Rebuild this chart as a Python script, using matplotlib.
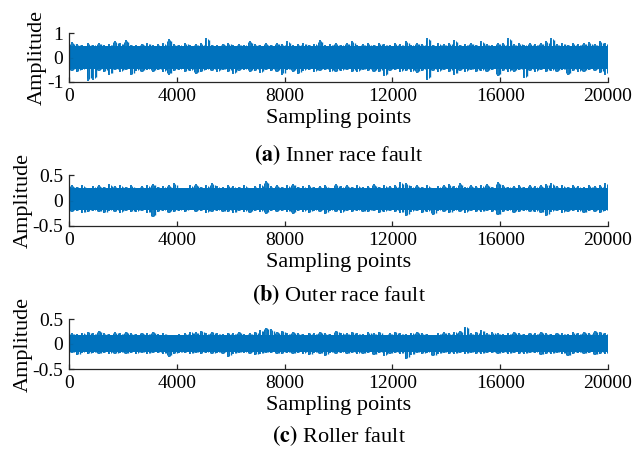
import numpy as np
import matplotlib
matplotlib.use("Agg")
import matplotlib.pyplot as plt

plt.rcParams['font.family'] = ['Liberation Serif', 'DejaVu Serif']
plt.rcParams['axes.unicode_minus'] = False
plt.rcParams['mathtext.fontset'] = 'stix'

N_POINTS = 20000
BIN = 200  # samples per envelope bin

# upper / lower envelope of each signal, one value per 200 samples
inner_hi = [0.62, 0.55, 0.5, 0.58, 0.52, 0.6, 0.5, 0.55, 0.68, 0.6,
            0.7, 0.52, 0.5, 0.56, 0.6, 0.5, 0.54, 0.58, 0.75, 0.55,
            0.52, 0.6, 0.5, 0.55, 0.58, 0.78, 0.52, 0.5, 0.56, 0.6,
            0.5, 0.55, 0.52, 0.68, 0.55, 0.5, 0.58, 0.52, 0.6, 0.55,
            0.66, 0.5, 0.55, 0.6, 0.52, 0.56, 0.7, 0.5, 0.55, 0.58,
            0.52, 0.6, 0.68, 0.5, 0.55, 0.58, 0.52, 0.6, 0.55, 0.5,
            0.58, 0.55, 0.66, 0.52, 0.6, 0.55, 0.78, 0.52, 0.58, 0.55,
            0.6, 0.7, 0.52, 0.55, 0.6, 0.52, 0.66, 0.55, 0.5, 0.6,
            0.58, 0.78, 0.55, 0.6, 0.52, 0.58, 0.55, 0.6, 0.66, 0.78,
            0.55, 0.6, 0.52, 0.58, 0.55, 0.6, 0.62, 0.55, 0.68, 0.6]
inner_lo = [-0.55, -0.6, -0.5, -0.95, -0.9, -0.55, -0.6, -0.7, -0.52, -0.58,
            -0.5, -0.72, -0.55, -0.6, -0.5, -0.58, -0.52, -0.6, -0.7, -0.55,
            -0.5, -0.58, -0.55, -0.66, -0.6, -0.5, -0.55, -0.58, -0.52, -0.6,
            -0.68, -0.55, -0.5, -0.58, -0.55, -0.62, -0.5, -0.55, -0.6, -0.7,
            -0.52, -0.58, -0.66, -0.55, -0.5, -0.6, -0.55, -0.52, -0.58, -0.6,
            -0.55, -0.5, -0.58, -0.6, -0.52, -0.55, -0.6, -0.58, -0.75, -0.55,
            -0.5, -0.6, -0.55, -0.58, -0.62, -0.55, -0.92, -0.55, -0.6, -0.5,
            -0.58, -0.7, -0.55, -0.6, -0.52, -0.58, -0.55, -0.6, -0.5, -0.75,
            -0.55, -0.6, -0.58, -0.52, -0.85, -0.55, -0.6, -0.5, -0.58, -0.55,
            -0.6, -0.52, -0.72, -0.55, -0.58, -0.6, -0.5, -0.55, -0.62, -0.7]

outer_hi = [0.3, 0.27, 0.3, 0.25, 0.28, 0.3, 0.27, 0.32, 0.28, 0.3,
            0.27, 0.3, 0.25, 0.28, 0.3, 0.33, 0.27, 0.28, 0.3, 0.34,
            0.22, 0.25, 0.3, 0.32, 0.27, 0.3, 0.34, 0.28, 0.26, 0.3,
            0.28, 0.27, 0.3, 0.25, 0.28, 0.32, 0.38, 0.28, 0.3, 0.27,
            0.3, 0.33, 0.27, 0.28, 0.3, 0.26, 0.28, 0.3, 0.25, 0.32,
            0.28, 0.3, 0.27, 0.3, 0.26, 0.28, 0.32, 0.27, 0.3, 0.28,
            0.3, 0.36, 0.34, 0.28, 0.3, 0.27, 0.3, 0.25, 0.28, 0.3,
            0.32, 0.28, 0.34, 0.27, 0.3, 0.28, 0.3, 0.32, 0.27, 0.36,
            0.3, 0.27, 0.28, 0.3, 0.26, 0.3, 0.28, 0.3, 0.33, 0.34,
            0.28, 0.3, 0.27, 0.3, 0.28, 0.26, 0.3, 0.28, 0.3, 0.34]
outer_lo = [-0.22, -0.2, -0.25, -0.22, -0.2, -0.23, -0.25, -0.2, -0.22, -0.24,
            -0.2, -0.23, -0.22, -0.2, -0.25, -0.33, -0.22, -0.2, -0.24, -0.22,
            -0.2, -0.22, -0.18, -0.22, -0.2, -0.24, -0.22, -0.2, -0.23, -0.22,
            -0.25, -0.2, -0.22, -0.24, -0.2, -0.22, -0.26, -0.2, -0.22, -0.2,
            -0.23, -0.26, -0.2, -0.22, -0.24, -0.2, -0.22, -0.26, -0.2, -0.22,
            -0.24, -0.2, -0.22, -0.2, -0.23, -0.22, -0.2, -0.24, -0.22, -0.2,
            -0.22, -0.25, -0.3, -0.22, -0.2, -0.24, -0.22, -0.28, -0.2, -0.22,
            -0.25, -0.2, -0.22, -0.24, -0.2, -0.22, -0.23, -0.2, -0.22, -0.29,
            -0.22, -0.2, -0.24, -0.22, -0.2, -0.23, -0.22, -0.25, -0.3, -0.22,
            -0.2, -0.24, -0.22, -0.2, -0.22, -0.25, -0.2, -0.22, -0.24, -0.2]

roller_hi = [0.22, 0.2, 0.23, 0.25, 0.22, 0.27, 0.22, 0.2, 0.24, 0.22,
             0.25, 0.22, 0.2, 0.23, 0.22, 0.25, 0.2, 0.22, 0.18, 0.17,
             0.2, 0.22, 0.25, 0.24, 0.27, 0.22, 0.25, 0.22, 0.2, 0.23,
             0.22, 0.25, 0.2, 0.22, 0.25, 0.28, 0.33, 0.3, 0.25, 0.27,
             0.22, 0.25, 0.22, 0.2, 0.23, 0.22, 0.25, 0.22, 0.2, 0.27,
             0.23, 0.22, 0.25, 0.22, 0.2, 0.24, 0.22, 0.25, 0.18, 0.22,
             0.25, 0.22, 0.2, 0.23, 0.25, 0.22, 0.2, 0.18, 0.22, 0.24,
             0.22, 0.25, 0.27, 0.35, 0.22, 0.25, 0.28, 0.22, 0.24, 0.22,
             0.2, 0.22, 0.25, 0.22, 0.2, 0.23, 0.22, 0.25, 0.22, 0.2,
             0.23, 0.22, 0.2, 0.24, 0.22, 0.25, 0.22, 0.27, 0.25, 0.22]
roller_lo = [-0.18, -0.22, -0.17, -0.2, -0.18, -0.2, -0.17, -0.19, -0.2, -0.18,
             -0.2, -0.17, -0.19, -0.18, -0.2, -0.17, -0.18, -0.2, -0.25, -0.2,
             -0.18, -0.17, -0.2, -0.18, -0.19, -0.17, -0.2, -0.18, -0.19, -0.25,
             -0.2, -0.18, -0.17, -0.19, -0.22, -0.2, -0.18, -0.17, -0.2, -0.19,
             -0.18, -0.2, -0.17, -0.19, -0.22, -0.18, -0.2, -0.23, -0.18, -0.19,
             -0.17, -0.2, -0.18, -0.19, -0.2, -0.17, -0.22, -0.18, -0.23, -0.2,
             -0.18, -0.2, -0.3, -0.22, -0.18, -0.2, -0.17, -0.24, -0.2, -0.18,
             -0.19, -0.2, -0.17, -0.2, -0.18, -0.19, -0.2, -0.17, -0.18, -0.2,
             -0.18, -0.2, -0.17, -0.19, -0.2, -0.18, -0.17, -0.22, -0.19, -0.2,
             -0.18, -0.2, -0.24, -0.19, -0.18, -0.2, -0.17, -0.22, -0.19, -0.2]

# dense core of each band
inner_core = (-0.45, 0.45)
outer_core = (-0.18, 0.24)
roller_core = (-0.15, 0.19)

panels = [
    ("(a)", " Inner race fault", inner_hi, inner_lo, inner_core, [-1, 0, 1], ["-1", "0", "1"]),
    ("(b)", " Outer race fault", outer_hi, outer_lo, outer_core, [-0.5, 0, 0.5], ["-0.5", "0", "0.5"]),
    ("(c)", " Roller fault", roller_hi, roller_lo, roller_core, [-0.5, 0, 0.5], ["-0.5", "0", "0.5"]),
]
xticks = [0, 4000, 8000, 12000, 16000, 20000]

blue = '#0072BD'
W, H = 639, 449
fig = plt.figure(figsize=(W / 100, H / 100), dpi=100)

# axes boxes in pixels: (top, bottom)
boxes = [(33, 82), (175, 226), (319, 369)]
caption_y = [155, 295, 436]
x0, x1 = 69, 608

for (tag, name, hi, lo, core, yt, ytl), (top, bot), cy in zip(panels, boxes, caption_y):
    ax = fig.add_axes([x0 / W, (H - bot) / H, (x1 - x0) / W, (bot - top) / H])
    hi = np.array(hi)
    lo = np.array(lo)
    xc = np.arange(len(hi)) * BIN + BIN / 2
    ax.fill_between([0, N_POINTS], core[0], core[1], color=blue, lw=0)
    ax.vlines(xc, lo, hi, color=blue, lw=1.3)
    ax.vlines(xc + BIN / 2, lo * 0.88, hi * 0.9, color=blue, lw=1.0)
    ax.vlines(xc + BIN / 4, lo * 0.93, hi * 0.95, color=blue, lw=0.7)
    ax.vlines(xc - BIN / 4, lo * 0.9, hi * 0.92, color=blue, lw=0.7)
    ax.set_xlim(0, N_POINTS)
    ax.set_ylim(yt[0], yt[-1])
    ax.set_xticks(xticks)
    ax.set_xticklabels([str(t) for t in xticks])
    ax.set_yticks(yt)
    ax.set_yticklabels(ytl)
    for s in ['top', 'right']:
        ax.spines[s].set_visible(False)
    for s in ['left', 'bottom']:
        ax.spines[s].set_color('#262626')
        ax.spines[s].set_linewidth(0.9)
    ax.tick_params(direction='in', length=3.5, width=0.9, colors='#262626',
                   labelsize=14, pad=4, labelcolor='black')
    ax.set_xlabel("Sampling points", fontsize=16, labelpad=3)
    ax.set_ylabel("Amplitude", fontsize=16, labelpad=0)
    fig.text(339 / W, (H - cy) / H, r"$\bf{" + tag + "}$" + name,
             ha='center', va='center', fontsize=16)

fig.savefig("out.png", dpi=100)
